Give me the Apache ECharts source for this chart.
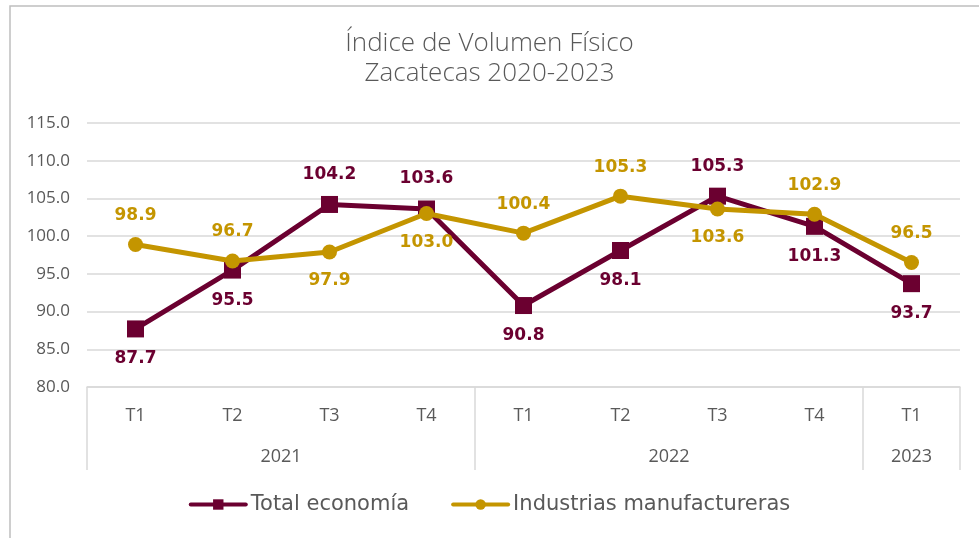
<!DOCTYPE html>
<html>
<head>
<meta charset="utf-8">
<script src="https://cdn.jsdelivr.net/npm/echarts@6/dist/echarts.min.js"></script>
<style>
  html, body { margin: 0; padding: 0; background: #fff; }
  #main { width: 979px; height: 538px; }
</style>
</head>
<body>
<div id="main"></div>
<script>
const quarters = ['T1', 'T2', 'T3', 'T4', 'T1', 'T2', 'T3', 'T4', 'T1']
const years = ['2021', '2022', '2023']
const yearBounds = [0, 4, 8, 9]
const total = [87.7, 95.5, 104.2, 103.6, 90.8, 98.1, 105.3, 101.3, 93.7]
const manuf = [98.9, 96.7, 97.9, 103.0, 100.4, 105.3, 103.6, 102.9, 96.5]
// lado de la etiqueta en cada punto
const totalPos = ['bottom', 'bottom', 'top', 'top', 'bottom', 'bottom', 'top', 'bottom', 'bottom']
const manufPos = ['top', 'top', 'bottom', 'bottom', 'top', 'top', 'bottom', 'top', 'top']

const chartDom = document.getElementById('main')
const myChart = echarts.init(chartDom)

const gray = '#595959'
const lineGray = '#d9d9d9'
const font = '"Open Sans", sans-serif'
const wide = '"DejaVu Sans", sans-serif'
const maroon = '#6B0030'
const gold = '#C49500'

const yearCenters = years.map((y, i) => (yearBounds[i] + yearBounds[i + 1]) / 2)

function withLabels (vals, pos) {
    return vals.map((v, i) => ({ value: v, label: { position: pos[i] } }))
}

const option = {
    animation: false,
    textStyle: { fontFamily: font },
    graphic: [
        {
            type: 'rect',
            shape: { x: 10, y: 6, width: 1000, height: 600 },
            style: { fill: 'none', stroke: '#bfbfbf', lineWidth: 1.5 },
            silent: true
        }
    ],
    title: {
        text: 'Índice de Volumen Físico\nZacatecas 2020-2023',
        left: 'center',
        top: 24,
        textStyle: {
            fontSize: 26,
            fontWeight: 300,
            color: gray,
            lineHeight: 30,
            fontFamily: font
        }
    },
    legend: {
        bottom: 18,
        left: 'center',
        itemGap: 42,
        itemWidth: 55,
        itemHeight: 13,
        itemStyle: { borderWidth: 0 },
        lineStyle: { width: 4, cap: 'round' },
        textStyle: { fontSize: 21, color: gray, fontFamily: wide },
        data: ['Total economía', 'Industrias manufactureras']
    },
    grid: {
        left: 87,
        right: 19,
        top: 123,
        bottom: 151
    },
    xAxis: [
        {
            type: 'category',
            data: quarters,
            axisLine: { lineStyle: { color: lineGray, width: 1.5 } },
            axisTick: { show: false },
            axisLabel: { color: gray, fontSize: 18, margin: 20, fontFamily: font }
        },
        {
            type: 'value',
            min: 0,
            max: 9,
            position: 'bottom',
            axisLine: { show: false },
            splitLine: { show: false },
            axisTick: {
                show: true,
                customValues: yearBounds,
                length: 83,
                lineStyle: { color: lineGray, width: 1.5 }
            },
            axisLabel: {
                customValues: yearCenters,
                formatter: function (v) {
                    const i = yearCenters.indexOf(v)
                    return i >= 0 ? years[i] : ''
                },
                color: gray,
                fontSize: 18,
                margin: 61,
                fontFamily: font
            }
        }
    ],
    yAxis: {
        type: 'value',
        min: 80,
        max: 115,
        interval: 5,
        axisLine: { show: false },
        axisTick: { show: false },
        splitLine: { lineStyle: { color: lineGray, width: 1.5 } },
        axisLabel: {
            color: gray,
            fontSize: 17,
            margin: 17,
            fontFamily: font,
            formatter: v => v.toFixed(1)
        }
    },
    series: [
        {
            name: 'Total economía',
            type: 'line',
            data: withLabels(total, totalPos),
            symbol: 'rect',
            symbolSize: 17,
            color: maroon,
            lineStyle: { width: 5, color: maroon },
            itemStyle: { color: maroon },
            label: {
                show: true,
                distance: 13,
                color: maroon,
                fontSize: 17,
                fontWeight: 'bold',
                fontFamily: wide,
                formatter: p => p.value.toFixed(1)
            },
            z: 3
        },
        {
            name: 'Industrias manufactureras',
            type: 'line',
            data: withLabels(manuf, manufPos),
            symbol: 'circle',
            symbolSize: 15,
            color: gold,
            lineStyle: { width: 5, color: gold },
            itemStyle: { color: gold },
            label: {
                show: true,
                distance: 13,
                color: gold,
                fontSize: 17,
                fontWeight: 'bold',
                fontFamily: wide,
                formatter: p => p.value.toFixed(1)
            },
            z: 4
        }
    ]
}

myChart.setOption(option)
</script>
</body>
</html>
